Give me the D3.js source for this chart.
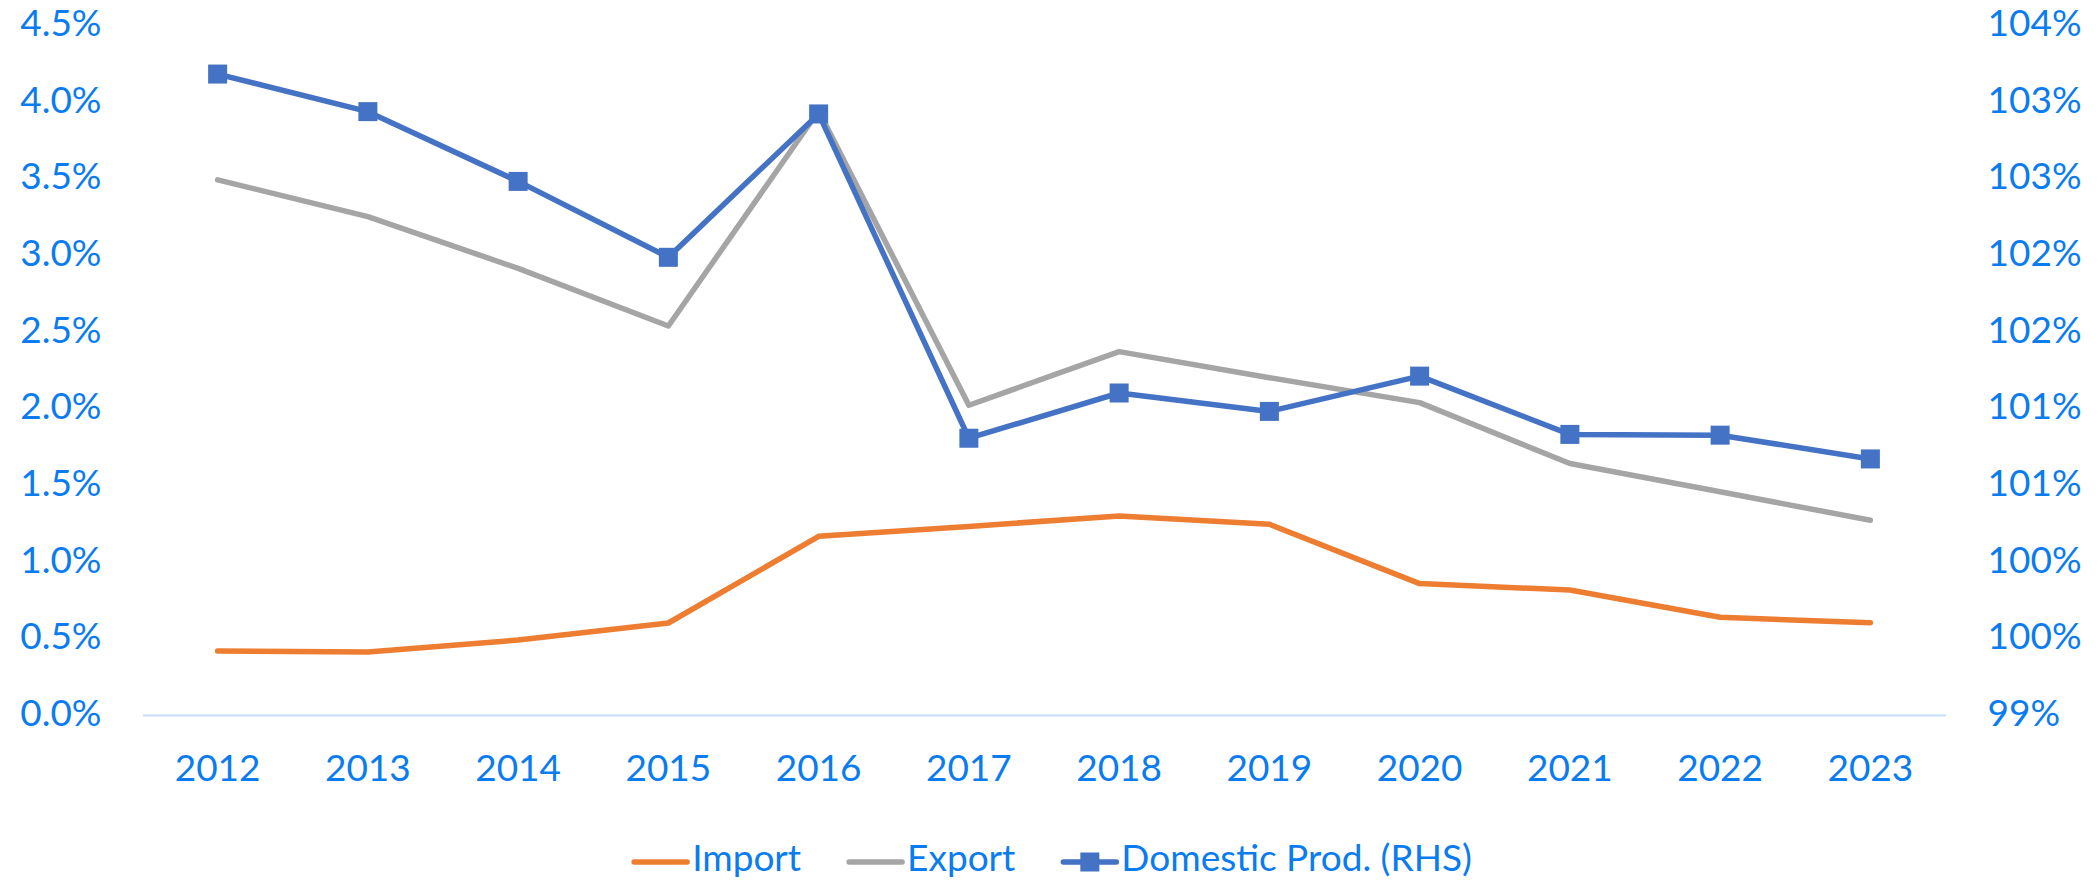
<!DOCTYPE html>
<html>
<head>
<meta charset="utf-8">
<script src="https://cdn.jsdelivr.net/npm/d3@7"></script>
<style>
  html, body { margin: 0; padding: 0; background: #fff; }
  svg { display: block; font-family: Lato, 'Open Sans', sans-serif; }
</style>
</head>
<body>
<svg id="chart" width="2098" height="880"></svg>
<script>
// ------------------
// Data
// ------------------
const years = ['2012', '2013', '2014', '2015', '2016', '2017', '2018', '2019', '2020', '2021', '2022', '2023']
const importVals = [0.417, 0.411, 0.489, 0.600, 1.165, 1.230, 1.298, 1.244, 0.857, 0.815, 0.637, 0.602]
const exportVals = [3.49, 3.25, 2.913, 2.537, 3.94, 2.02, 2.37, 2.20, 2.037, 1.64, 1.456, 1.27]
const domesticVals = [103.18, 102.935, 102.48, 101.985, 102.92, 100.805, 101.10, 100.98, 101.21, 100.83, 100.825, 100.67]
const leftTicks = [0, 0.5, 1, 1.5, 2, 2.5, 3, 3.5, 4, 4.5]
const rightTicks = [99, 99.5, 100, 100.5, 101, 101.5, 102, 102.5, 103, 103.5]
const seriesNames = ['Import', 'Export', 'Domestic Prod. (RHS)']

const textColor = '#0a7cf0'
const colors = { Import: '#ed7d31', Export: '#a5a5a5', 'Domestic Prod. (RHS)': '#4472c4' }
const fontSize = 37

const svg = d3.select('#chart')
const width = +svg.attr('width')

const margin = { top: 25, right: 152.5, bottom: 165, left: 142.5 }
const plotBottom = 880 - margin.bottom
const plotRight = width - margin.right

// ------------------
// Scales
// ------------------
const x = d3.scaleBand()
  .domain(years)
  .range([margin.left, plotRight])
  .padding(0)

const cx = d => x(d) + x.bandwidth() / 2

const yL = d3.scaleLinear()
  .domain([0, 4.5])
  .range([plotBottom, margin.top])

const yR = d3.scaleLinear()
  .domain([99, 103.5])
  .range([plotBottom, margin.top])

// ------------------
// Axes
// ------------------
const styleAxis = g => {
  g.selectAll('text')
    .attr('fill', textColor)
    .attr('font-size', fontSize)
    .attr('font-family', "Lato, 'Open Sans', sans-serif")
  g.selectAll('.tick line').remove()
}

svg.append('g')
  .attr('transform', `translate(${margin.left},0)`)
  .call(d3.axisLeft(yL).tickValues(leftTicks).tickFormat(d => d.toFixed(1) + '%').tickSize(0).tickPadding(41))
  .call(g => g.select('.domain').remove())
  .call(styleAxis)
  .selectAll('text').attr('dy', '0.28em')

svg.append('g')
  .attr('transform', `translate(${plotRight},0)`)
  .call(d3.axisRight(yR).tickValues(rightTicks).tickFormat(d => Math.round(d) + '%').tickSize(0).tickPadding(42))
  .call(g => g.select('.domain').remove())
  .call(styleAxis)
  .selectAll('text').attr('dy', '0.28em')

svg.append('g')
  .attr('transform', `translate(0,${plotBottom})`)
  .call(d3.axisBottom(x).tickSize(0).tickSizeOuter(0).tickPadding(40))
  .call(g => g.select('.domain').attr('stroke', '#c5ddf6').attr('stroke-width', 2))
  .call(styleAxis)

// ------------------
// Lines
// ------------------
const lineL = d3.line().x(d => cx(d.year)).y(d => yL(d.value))
const lineR = d3.line().x(d => cx(d.year)).y(d => yR(d.value))

const toPoints = vals => years.map((year, i) => ({ year, value: vals[i] }))

const importPts = toPoints(importVals)
const exportPts = toPoints(exportVals)
const domesticPts = toPoints(domesticVals)

const drawLine = (pts, gen, color) => svg.append('path')
  .datum(pts)
  .attr('fill', 'none')
  .attr('stroke', color)
  .attr('stroke-width', 5.5)
  .attr('stroke-linecap', 'round')
  .attr('stroke-linejoin', 'round')
  .attr('d', gen)

drawLine(importPts, lineL, colors.Import)
drawLine(exportPts, lineL, colors.Export)
drawLine(domesticPts, lineR, colors['Domestic Prod. (RHS)'])

const markerSize = 19
svg.append('g')
  .selectAll('rect')
  .data(domesticPts)
  .join('rect')
  .attr('x', d => cx(d.year) - markerSize / 2)
  .attr('y', d => yR(d.value) - markerSize / 2)
  .attr('width', markerSize)
  .attr('height', markerSize)
  .attr('fill', colors['Domestic Prod. (RHS)'])

// ------------------
// Legend
// ------------------
const legendY = 860
const legendCenter = 1053
const symW = 53
const symGap = 5
const itemGap = 48

const legend = svg.append('g')
const items = legend.selectAll('g')
  .data(seriesNames)
  .join('g')

items.append('text')
  .attr('x', symW + symGap)
  .attr('y', legendY)
  .attr('dy', '0.3em')
  .attr('fill', textColor)
  .attr('font-size', fontSize)
  .text(d => d)

const widths = []
items.each(function () {
  widths.push(d3.select(this).select('text').node().getComputedTextLength())
})
const total = d3.sum(widths, w => w + symW + symGap) + itemGap * (seriesNames.length - 1)
let offset = legendCenter - total / 2
items.each(function (d, i) {
  d3.select(this).attr('transform', `translate(${offset},0)`)
  offset += symW + symGap + widths[i] + itemGap
})

items.append('line')
  .attr('x1', 0)
  .attr('x2', symW)
  .attr('y1', legendY + 2)
  .attr('y2', legendY + 2)
  .attr('stroke', d => colors[d])
  .attr('stroke-width', 5.5)
  .attr('stroke-linecap', 'round')

items.filter(d => d === 'Domestic Prod. (RHS)')
  .append('rect')
  .attr('x', symW / 2 - markerSize / 2)
  .attr('y', legendY + 2 - markerSize / 2)
  .attr('width', markerSize)
  .attr('height', markerSize)
  .attr('fill', colors['Domestic Prod. (RHS)'])
</script>
</body>
</html>
